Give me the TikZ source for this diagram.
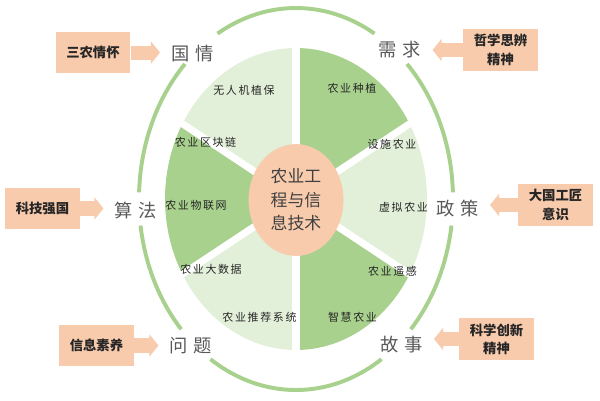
\documentclass[tikz,border=0pt]{standalone}
\usepackage{fontspec}
\setmainfont{Noto Sans CJK SC}
\newfontfamily\topicfont[LetterSpace=30]{Noto Sans CJK SC}
\newfontfamily\itemfont[LetterSpace=15]{Noto Sans CJK SC}
\usetikzlibrary{shapes.geometric,arrows.meta}
\definecolor{leafdark}{HTML}{A9D18E}
\definecolor{leaflight}{HTML}{E2F0D9}
\definecolor{peach}{HTML}{F8CBAD}
\definecolor{inkgray}{HTML}{595959}

\begin{document}
\begin{tikzpicture}[scale=0.025,
  ring/.style={leafdark,line width=2.8pt},
  hub/.style={ellipse,fill=peach,minimum width=67.5pt,minimum height=79.5pt,
    inner sep=0pt,align=center,text=black!75,
    font=\fontsize{12}{16.7}\selectfont},
  topic/.style={inner sep=0pt,text=inkgray,font=\topicfont\fontsize{13}{15}\selectfont},
  item/.style={inner sep=0pt,text=black!85,font=\itemfont\fontsize{7.8}{9}\selectfont},
  tag/.style={fill=peach,minimum width=53pt,minimum height=29.5pt,inner sep=0pt,
    align=center,text=black!85,font=\bfseries\fontsize{9.5}{13}\selectfont},
  push/.style={peach,line width=10pt,-{Triangle[length=6.4pt,width=15.5pt]},
    shorten >=8pt}]
  \useasboundingbox (-296,-201) rectangle (304,199);

  % six sectors
  \foreach \a/\c in {30/leafdark,90/leaflight,150/leafdark,210/leaflight,270/leafdark,330/leaflight}
    \fill[\c] (0,0) -- (\a:131 and 151)
      arc[start angle=\a,end angle=\a+60,x radius=131,y radius=151] -- cycle;
  \foreach \a in {30,90,...,330}
    \draw[white,line width=5pt] (0,0) -- (\a:136 and 156);

  \node[hub] (hub) at (0,-1) {农业工\\程与信\\息技术};

  % outer ring, broken at the six topics
  \foreach \a/\b in {2/45,60/120,135/178,188/223,237/303,317/352}
    \draw[ring] (\a:157 and 191)
      arc[start angle=\a,end angle=\b,x radius=157,y radius=191];

  \node[topic] (guoqing) at (-103.5,145) {国情};
  \node[topic] (xuqiu) at (104,149) {需求};
  \node[topic] (suanfa) at (-160,-12) {算法};
  \node[topic] (zhengce) at (161.5,-9.5) {政策};
  \node[topic] (wenti) at (-105,-147) {问题};
  \node[topic] (gushi) at (105.5,-145.5) {故事};

  \node[item] (wrj) at (-52,109) {无人机植保};
  \node[item] (qkl) at (-90.5,57) {农业区块链};
  \node[item] (zz) at (56,111) {农业种植};
  \node[item] (ss) at (96,55) {设施农业};
  \node[item] (wlw) at (-100,-6) {农业物联网};
  \node[item] (xn) at (107.5,-8) {虚拟农业};
  \node[item] (dsj) at (-85,-70) {农业大数据};
  \node[item] (yg) at (96.5,-72) {农业遥感};
  \node[item] (tj) at (-36.5,-118) {农业推荐系统};
  \node[item] (zh) at (56.5,-118) {智慧农业};

  \node[tag] (sannong) at (-203,146.5) {三农情怀};
  \node[tag] (zhexue) at (204.5,149) {哲学思辨\\精神};
  \node[tag] (keji) at (-253.5,-9.5) {科技强国};
  \node[tag] (daguo) at (259.5,-6) {大国工匠\\意识};
  \node[tag] (xinxi) at (-199.5,-146.5) {信息素养};
  \node[tag] (kexue) at (200.5,-140) {科学创新\\精神};

  \draw[push] (sannong.east) -- (sannong.east -| guoqing.west);
  \draw[push] (keji.east) -- (keji.east -| suanfa.west);
  \draw[push] (xinxi.east) -- (xinxi.east -| wenti.west);
  \draw[push] (zhexue.west) -- (zhexue.west -| xuqiu.east);
  \draw[push] (daguo.west) -- (daguo.west -| zhengce.east);
  \draw[push] (kexue.west) -- (kexue.west -| gushi.east);
\end{tikzpicture}
\end{document}
